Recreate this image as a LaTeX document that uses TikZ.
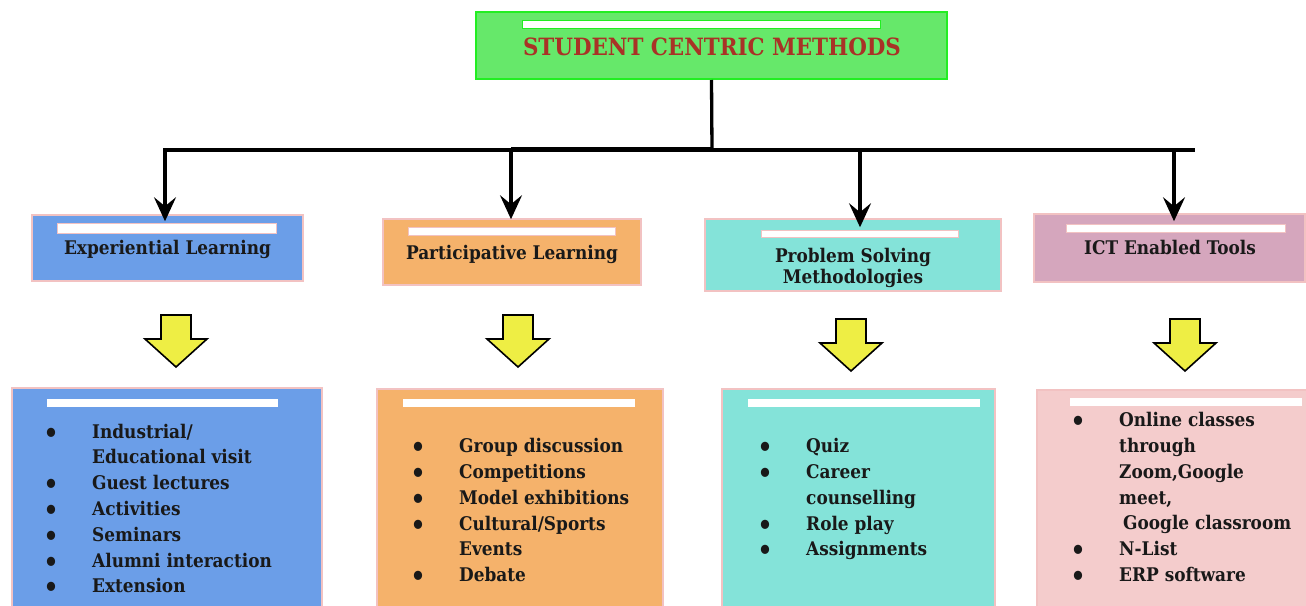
\documentclass[tikz,border=0pt]{standalone}
\usepackage{fontspec}
\setmainfont{DejaVu Serif Condensed}
\usetikzlibrary{arrows.meta}
\definecolor{gfill}{HTML}{66E86A}
\definecolor{gline}{HTML}{22EE22}
\definecolor{ttl}{HTML}{A93226}
\definecolor{cblue}{HTML}{6B9EE8}
\definecolor{corange}{HTML}{F5B26B}
\definecolor{cteal}{HTML}{84E3D9}
\definecolor{cmauve}{HTML}{D5A6BD}
\definecolor{cpink}{HTML}{F4CCCC}
\definecolor{pborder}{HTML}{F2C2C2}
\definecolor{yel}{HTML}{EEEE44}
\newcommand\bi{\makebox[82pt]{\raisebox{-4pt}{\fontsize{26}{0}\selectfont\textbullet}}}
\tikzset{
  x=1pt, y=-1pt,
  box/.style={draw=pborder, line width=1.5pt, inner sep=0pt},
  wbar/.style={fill=white, draw=pborder, line width=0.8pt, inner sep=0pt},
  lbl/.style={inner sep=0pt, anchor=base, font=\fontsize{18.8}{20.7}\selectfont\bfseries, text=black!90},
  lst/.style={inner sep=0pt, anchor=base west, font=\fontsize{18.8}{25.8}\selectfont\bfseries, text=black!90},
  conn/.style={line width=3.3pt, black},
  arr/.style={conn, -{Stealth[length=24pt,width=22pt,inset=9pt]}},
  yarrow/.pic={\draw[fill=yel, line width=1.6pt, line join=miter]
     (-15,0) -- (15,0) -- (15,24) -- (31,24) -- (0,52) -- (-31,24) -- (-15,24) -- cycle;}
}
\begin{document}
\begin{tikzpicture}
\useasboundingbox (0,0) rectangle (1306,605);
\fill[white] (0,0) rectangle (1306,605);
% top
\node[draw=gline, fill=gfill, line width=2pt, minimum width=471pt, minimum height=67pt, inner sep=0pt] (top) at (711.5,45.5) {};
\node[fill=white, draw=gline, line width=1pt, minimum width=358pt, minimum height=8pt, inner sep=0pt] (topbar) at (701,24) {};
\node[inner sep=0pt, anchor=base, text=ttl, font=\fontsize{23.8}{24}\selectfont\bfseries] (toptxt) at (712,55) {STUDENT CENTRIC METHODS};
% level 2 boxes
\node[box, fill=cblue, minimum width=271pt, minimum height=66pt] (e1) at (167.5,248) {};
\node[box, fill=corange, minimum width=258pt, minimum height=66pt] (e2) at (512,252) {};
\node[box, fill=cteal, minimum width=296pt, minimum height=72pt] (e3) at (853,255) {};
\node[box, fill=cmauve, minimum width=271pt, minimum height=68pt] (e4) at (1169.5,248) {};
\node[wbar, minimum width=219pt, minimum height=10pt] (e1bar) at (166.5,228) {};
\node[wbar, minimum width=207pt, minimum height=8pt] (e2bar) at (511.5,231) {};
\node[wbar, minimum width=197pt, minimum height=7pt] (e3bar) at (859.5,233.5) {};
\node[wbar, minimum width=219pt, minimum height=8pt] (e4bar) at (1175.5,228) {};
\node[lbl] (e1t) at (167.5,254) {Experiential Learning};
\node[lbl] (e2t) at (512,259) {Participative Learning};
\node[lbl, align=center] (e3t) at (853,283.5) {Problem Solving\\Methodologies};
\node[lbl] (e4t) at (1170,254) {ICT Enabled Tools};
% connectors
\coordinate (bus) at (712,150);
\coordinate (busL) at (165,150);
\coordinate (busR) at (1193,150);
\coordinate (j2) at (511,150);
\draw[conn] (top.south) -- (bus);
\draw[conn, line cap=rect] (busL) -- (busR);
\draw[line width=5pt] (j2) ++(0,-1) coordinate (j2t) (j2t) -- (j2t -| bus);
\coordinate (j1) at (165,150);
\coordinate (j3) at (860,150);
\coordinate (j4) at (1174,150);
\draw[arr, shorten >=-7pt] (j1) -- (j1 |- e1.north);
\draw[arr, shorten >=-1pt] (j2) -- (j2 |- e2.north);
\draw[arr, shorten >=-9pt] (j3) -- (j3 |- e3.north);
\draw[arr, shorten >=-8pt] (j4) -- (j4 |- e4.north);
% yellow arrows
\pic (y1) at (176,315) {yarrow};
\pic (y2) at (518,315) {yarrow};
\pic (y3) at (851,319) {yarrow};
\pic (y4) at (1185,319) {yarrow};
% bottom boxes
\node[box, fill=cblue, minimum width=310pt, minimum height=230pt] (b1) at (167,503) {};
\node[box, fill=corange, minimum width=286pt, minimum height=230pt] (b2) at (520,504) {};
\node[box, fill=cteal, minimum width=273pt, minimum height=230pt] (b3) at (858.5,504) {};
\node[box, fill=cpink, minimum width=275pt, minimum height=230pt] (b4) at (1174.5,505) {};
\node[fill=white, inner sep=0pt, minimum width=231pt, minimum height=8pt] (b1bar) at (162.5,402.5) {};
\node[fill=white, inner sep=0pt, minimum width=232pt, minimum height=8pt] (b2bar) at (519,402.5) {};
\node[fill=white, inner sep=0pt, minimum width=232pt, minimum height=8pt] (b3bar) at (864,402.5) {};
\node[fill=white, inner sep=0pt, minimum width=232pt, minimum height=8pt] (b4bar) at (1186,402) {};
\node[lst] (l1) at (10,438) {\begin{tabular}[t]{@{}l@{}l@{}}
\bi & Industrial/\\
 & Educational visit\\
\bi & Guest lectures\\
\bi & Activities\\
\bi & Seminars\\
\bi & Alumni interaction\\
\bi & Extension
\end{tabular}};
\node[lst] (l2) at (377,452.7) {\begin{tabular}[t]{@{}l@{}l@{}}
\bi & Group discussion\\
\bi & Competitions\\
\bi & Model exhibitions\\
\bi & Cultural/Sports\\
 & Events\\
\bi & Debate
\end{tabular}};
\node[lst] (l3) at (724,452.7) {\begin{tabular}[t]{@{}l@{}l@{}}
\bi & Quiz\\
\bi & Career\\
 & counselling\\
\bi & Role play\\
\bi & Assignments
\end{tabular}};
\node[lst] (l4) at (1037,426.7) {\begin{tabular}[t]{@{}l@{}l@{}}
\bi & Online classes\\
 & through\\
 & Zoom,Google\\
 & meet,\\
 & \hspace{4pt}Google classroom\\
\bi & N-List\\
\bi & ERP software
\end{tabular}};
\end{tikzpicture}
\end{document}
